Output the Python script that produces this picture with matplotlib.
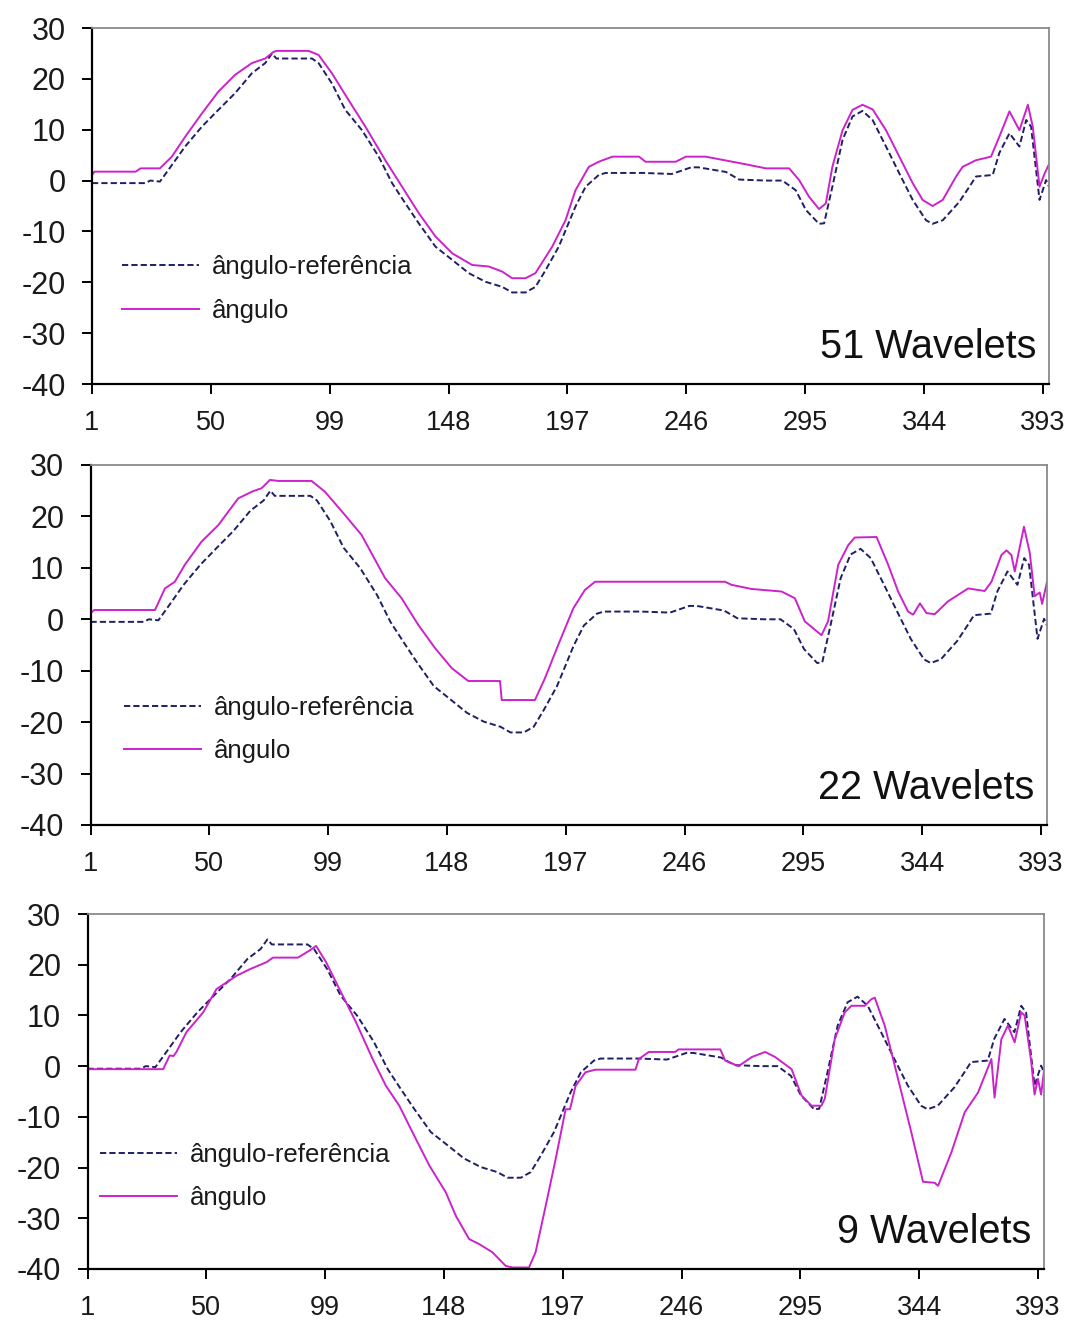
import matplotlib
matplotlib.use('Agg')
import matplotlib.pyplot as plt

plt.rcParams['font.family'] = ['Liberation Sans', 'DejaVu Sans']

# ---------------- data ----------------
x_ticks = [1, 50, 99, 148, 197, 246, 295, 344, 393]
y_ticks = [-40, -30, -20, -10, 0, 10, 20, 30]
labels = ['ângulo-referência', 'ângulo']
titles = ['51 Wavelets', '22 Wavelets', '9 Wavelets']

ref_x = [1, 23, 25, 29, 32.5, 39.4, 46.3, 53.1, 60, 66.9, 72.4, 75.2, 77, 91.7, 94.4,
         99.9, 105.4, 112.3, 119.2, 124.7, 130.2, 135.7, 142.6, 149.5, 156.3, 163.2,
         170.1, 174.2, 179.7, 183.8, 188, 193.4, 196.2, 200.3, 204.5, 209.9, 212.7,
         228, 240, 248, 251, 262.3, 267.8, 278.8, 285.6, 291.1, 295.3, 300.7, 302.8,
         306.2, 310.4, 314.5, 318.6, 322.8, 328.3, 333.8, 339.3, 344.8, 347.5, 351.7,
         358.5, 362.7, 365.4, 372.3, 375, 379.2, 383.3, 386.1, 388.1, 391.6, 394.3, 395.5]
ref_y = [-0.5, -0.5, 0.0, -0.2, 2.1, 6.7, 10.6, 13.9, 17.2, 21.1, 23.1, 25.0, 24.0, 24.0, 23.1,
         19.1, 13.9, 9.9, 4.7, -0.5, -4.5, -8.4, -13.0, -15.6, -18.2, -19.9,
         -20.9, -22.0, -22.0, -20.9, -17.6, -13.0, -9.8, -5.1, -1.2, 1.1, 1.5,
         1.5, 1.3, 2.6, 2.6, 1.7, 0.2, 0.0, 0.0, -1.9, -5.8, -8.5, -8.4,
         -1.2, 8.0, 12.6, 13.7, 11.9, 6.7, 1.4, -3.8, -7.8, -8.5, -7.8,
         -4.2, -1.2, 0.8, 1.1, 5.4, 9.3, 6.7, 11.9, 10.6, -3.8, 0.1, -1.2]

ang51_x = [1, 2, 19, 21, 29, 33.9, 39.4, 46.3, 53.1, 60, 66.9, 72.4, 75.8, 77, 90.3, 94.4,
           99.9, 106.8, 113.7, 121.9, 128.8, 135.7, 142.6, 149.5, 157.7, 164.6, 170.1,
           174.2, 179.7, 183.8, 190.7, 196.2, 200.3, 205.8, 209.9, 215.5, 226.5, 229.2,
           241.6, 245.8, 254, 265, 270.5, 278.8, 288.4, 292.5, 296.6, 300.7, 303.5, 306.2,
           310.4, 314.5, 318.6, 322.8, 328.3, 333.8, 339.3, 343.4, 347.5, 351.7, 357.2,
           359.9, 365.4, 371.6, 375, 379.2, 383.3, 386.8, 388.8, 391.6, 393.7, 395.5]
ang51_y = [1.1, 1.75, 1.75, 2.4, 2.4, 4.7, 8.6, 13.2, 17.5, 20.8, 23.1, 24.0, 25.3, 25.5, 25.5, 24.7,
           21.1, 15.8, 10.6, 4.0, -1.2, -6.4, -11.0, -14.3, -16.6, -16.9, -17.9,
           -19.2, -19.2, -18.2, -13.0, -7.8, -1.9, 2.7, 3.7, 4.7, 4.7, 3.7,
           3.7, 4.7, 4.7, 3.7, 3.2, 2.4, 2.4, 0.1, -3.2, -5.6, -4.5, 2.7,
           9.9, 13.9, 14.9, 14.0, 9.9, 4.7, -0.5, -3.8, -5.0, -3.8, 0.8,
           2.7, 4.0, 4.7, 8.6, 13.6, 9.9, 14.9, 10.6, -1.2, 1.4, 3.2]

ang22_x = [1, 2.5, 27.6, 31.7, 35.8, 39.9, 46.8, 53.7, 61.9, 67.5, 71.6, 75.0, 78.5, 92.2,
           97.7, 105.9, 112.8, 122.5, 129.3, 136.2, 143.1, 150, 156.8, 169.9, 170.6, 184.3,
           188.4, 193.9, 200.1, 204.9, 209.1, 262.7, 265.4, 273.6, 286, 291.5, 295.6, 302.5,
           305.2, 309.4, 313.5, 316.2, 325.2, 330, 334.1, 338.2, 340.3, 343.1, 345.8, 349.2,
           354.7, 363, 369.8, 372.6, 376.7, 378.8, 380.8, 382.2, 383.6, 386.0, 388.4, 390.4,
           392.5, 393.5, 395.5]
ang22_y = [1.2, 1.8, 1.8, 6.0, 7.3, 10.6, 15.1, 18.3, 23.5, 24.8, 25.5, 27.1, 26.9, 26.9,
           24.8, 20.3, 16.4, 8.0, 4.1, -1.1, -5.6, -9.5, -12.0, -12.0, -15.7, -15.7,
           -11.5, -5.0, 2.1, 5.7, 7.3, 7.3, 6.7, 5.9, 5.4, 4.1, -0.4, -3.1,
           -0.4, 10.6, 14.4, 15.9, 16.0, 10.6, 5.4, 1.5, 0.9, 3.1, 1.2, 1.0,
           3.5, 6.0, 5.5, 7.3, 12.5, 13.4, 12.5, 9.3, 12.5, 18.0, 12.9, 4.5,
           5.2, 3.0, 7.3]

ang9_x = [1, 32.2, 34.9, 36.5, 37.7, 41.8, 48.7, 54.2, 62.4, 67.9, 74.8, 77.5, 87.8, 92.6,
          95.3, 99.4, 104.9, 111.8, 118.6, 124.1, 129.6, 135.1, 142, 148.8, 152.9, 158.4,
          162.6, 168, 173.5, 176.3, 183.1, 185.8, 190, 194.1, 198.2, 200, 202.3, 206.4,
          210.5, 227, 228.4, 232.5, 243.4, 244.8, 262, 264, 269.5, 275, 280.5, 284.6,
          291.4, 295.5, 299.6, 303.7, 305.1, 309.2, 313.3, 316.1, 321.6, 324.3, 325.7,
          329.8, 335.3, 340.8, 345.6, 350.4, 351.8, 357.3, 362.8, 368.3, 373.8, 375.1,
          377.9, 380.6, 383.4, 386.1, 387.5, 390.2, 391.6, 393, 394.3, 395.5]
ang9_y = [-0.6, -0.6, 2.1, 2.0, 2.8, 6.7, 10.6, 15.2, 17.8, 19.1, 20.5, 21.4, 21.4, 22.8,
          23.7, 20.5, 15.2, 8.6, 1.4, -3.9, -7.8, -13.1, -19.6, -24.9, -29.5, -34.1,
          -35.1, -36.7, -39.4, -39.7, -39.7, -36.7, -27.5, -18.3, -8.5, -8.5, -3.9, -1.2,
          -0.7, -0.7, 1.4, 2.8, 2.8, 3.3, 3.3, 1.1, 0.0, 1.8, 2.8, 1.8,
          -0.6, -5.8, -7.8, -7.8, -6.4, 5.3, 10.6, 11.9, 11.9, 13.2, 13.5,
          8.0, -2.5, -13.1, -22.8, -23.0, -23.6, -17.0, -9.1, -5.2, 1.4, -6.2,
          5.3, 8.0, 4.7, 10.6, 10.0, 1.0, -5.6, -2.5, -5.6, -1.0]

# ---------------- layout ----------------
W, H = 1067, 1320
panels = [
    dict(ax_px=(92, 28, 1049, 384), ang=(ang51_x, ang51_y), leg=(0.031, 0.267), title=titles[0]),
    dict(ax_px=(90.5, 465, 1047, 825), ang=(ang22_x, ang22_y), leg=(0.035, 0.266), title=titles[1]),
    dict(ax_px=(87.5, 914, 1044, 1269), ang=(ang9_x, ang9_y), leg=(0.013, 0.261), title=titles[2]),
]

ref_color = '#1f1f66'
ang_color = '#cc22cc'

fig = plt.figure(figsize=(W / 100, H / 100), dpi=100)
fig.patch.set_facecolor('white')

for p in panels:
    l, t, r, b = p['ax_px']
    ax = fig.add_axes([l / W, 1 - b / H, (r - l) / W, (b - t) / H])
    ax.plot(ref_x, ref_y, color=ref_color, lw=1.4, ls=(0, (3.2, 1.6)), label=labels[0])
    ax.plot(p['ang'][0], p['ang'][1], color=ang_color, lw=1.4, label=labels[1])
    ax.set_xlim(1, 395.5)
    ax.set_ylim(-40, 30)
    ax.set_xticks(x_ticks)
    ax.set_yticks(y_ticks)
    ax.set_yticklabels([str(v) for v in y_ticks])
    ax.tick_params(axis='y', direction='out', length=7, width=1.4, pad=12,
                   labelsize=22, labelcolor='#1a1a1a', colors='black')
    ax.tick_params(axis='x', direction='out', length=7, width=1.4, pad=12,
                   labelsize=19.5, labelcolor='#1a1a1a', colors='black')
    for s in ['left', 'bottom']:
        ax.spines[s].set_color('black')
        ax.spines[s].set_linewidth(1.6)
    for s in ['top', 'right']:
        ax.spines[s].set_color('#8a8a8a')
        ax.spines[s].set_linewidth(1.3)
    leg = ax.legend(loc='center left', bbox_to_anchor=p['leg'], frameon=False,
                    fontsize=18.5, handlelength=3.0, handletextpad=0.5,
                    labelspacing=0.75, borderpad=0, borderaxespad=0)
    for txt in leg.get_texts():
        txt.set_color('#1a1a1a')
    ax.text(0.987, 0.073, p['title'], transform=ax.transAxes, ha='right',
            va='baseline', fontsize=28.5, color='#111111')

fig.savefig('out.png', dpi=100)
